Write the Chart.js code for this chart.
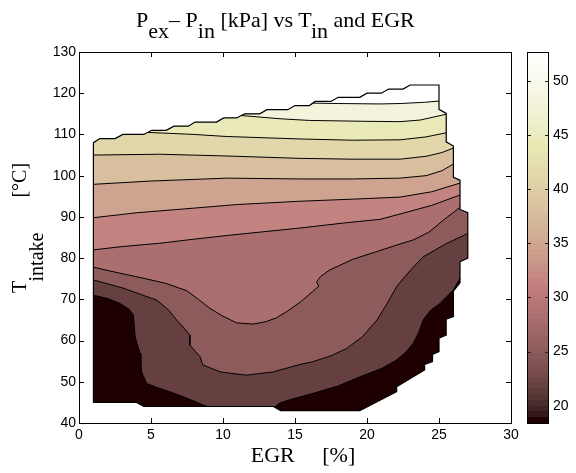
<!DOCTYPE html>
<html>
<head>
<meta charset="utf-8">
<script src="https://cdn.jsdelivr.net/npm/chart.js@4.4.1/dist/chart.umd.min.js"></script>
<style>
  body { margin: 0; background: #fff; }
  #wrap { position: relative; width: 576px; height: 473px; overflow: hidden; }
  canvas { position: absolute; top: 0; }
  .serif { position: absolute; font-family: "Liberation Serif", "Times New Roman", serif; font-size: 20px; line-height: 20px; white-space: pre; color: #000; }
  .big { font-size: 22px; line-height: 22px; }
  .sub { position: relative; top: 11px; }
</style>
</head>
<body>
<div id="wrap">
  <canvas id="plot" width="576" height="473" style="left:0"></canvas>
  <canvas id="cbar" width="49" height="473" style="left:527px"></canvas>
  <div class="serif big" style="left:136px;top:9px">P<span class="sub">ex</span>– P<span class="sub">in</span> [kPa] vs T<span class="sub">in</span> and EGR</div>
  <div class="serif big" style="left:0;width:606px;text-align:center;top:444px">EGR     [%]</div>
  <div class="serif" style="left:9px;top:293px;transform-origin:0 0;transform:rotate(-90deg)">T<span style="position:relative;top:17px">intake</span>       [°C]</div>
</div>
<script>
// axis ticks
const egrTicks = [0, 5, 10, 15, 20, 25, 30];
const tempTicks = [40, 50, 60, 70, 80, 90, 100, 110, 120, 130];
const cbarTicks = [20, 25, 30, 35, 40, 45, 50];
const cbarMin = 18.4;
const cbarMax = 52.65;

// measured region (EGR %, T intake degC), clockwise from bottom left
const domainEdge = [[1,45],[1,108],[1.45,109],[2.5,109],[3.05,110],[4.5,110],[5.05,111],[6.05,111],[6.6,112],[7.6,112],
  [8.05,113],[9.55,113],[10.05,114],[10.95,114],[11.5,115],[12.55,115],[13.05,116],[14.5,116],[15,117],[16,117],
  [16.4,118],[17.5,118],[18,119],[19.5,119],[20,120],[21,120],[21.5,121],[22.5,121],[23,122],[25,122],
  [25,116.1],[25.5,115.1],[25.5,108.2],[26,107.2],[26,99.6],[26.46,98.9],[26.46,91.8],[27,91],[27,80],[26.46,79.1],
  [26.46,74],[26,72],[26,65.8],[25.5,65.2],[25.5,61.3],[25,60.6],[25,57.3],[24.55,56.6],[24.55,54.9],[24,54.2],
  [24,52.9],[22.06,48.8],[22.06,47.6],[19.5,43],[14,43],[13.5,44],[4.5,44],[4,45],[1,45]];

// contour lines, lowest level first
const contour01 = [[0.5,71.2],[1,71],[2,70.2],[2.85,69],[3.5,67.5],[3.77,66.2],[3.85,63],[3.9,60.9],[4.1,58.5],[4.24,56.9],
  [4.3,54.5],[4.35,52.4],[4.7,49.6],[5.5,48.5],[6.3,47.6],[7.5,46],[8.6,44.4],[9.3,43.6],[9.5,42],[13.3,42],
  [13.5,43.6],[13.96,44.9],[15,46],[16.27,47.2],[18,49],[19.5,51.2],[21,53.2],[22.06,55.3],[22.7,57.2],[23.2,59.3],
  [23.6,62],[23.9,65],[24.4,67.3],[25.07,69],[26,72.3],[26.46,75.1],[27.5,77.5]];
const contour02 = [[0.5,74.9],[1,74.7],[3,72.8],[5.4,69.8],[6.2,67.5],[6.78,65],[7.3,63],[7.7,61.3],[7.7,58.9],[8.1,57.3],
  [8.4,56.1],[8.6,54.1],[9.8,52.4],[11.6,51.6],[13.5,52.4],[14,52.9],[15.35,54.2],[16.27,54.9],[17.5,56.3],[18.6,58.1],
  [19.7,61],[20.7,65],[21.4,69],[22.06,73.1],[23,77],[23.9,80.3],[25.5,83.5],[26.9,85.8],[27.5,86.6]];
const contour03 = [[0.5,78],[1,77.8],[2.5,76.6],[4.24,75.3],[6,73.9],[7.48,72.1],[8.3,70],[9.1,67.8],[10,65.9],[10.95,64.3],
  [12.1,64],[13,64.6],[13.7,65.5],[14.5,67.2],[15.35,69.3],[16.2,71.8],[16.65,73.2],[16.5,74.3],[16.8,75.6],[17.4,77.1],
  [19,79.7],[20.7,81.6],[22,83.1],[23.2,84.4],[24.3,86.3],[25.3,89.2],[26.46,92.3],[27.5,94.5]];
const contour04 = [[0.5,81.9],[1,82],[3,82.8],[5.6,83.6],[8,84.6],[10.3,85.5],[13.96,86.8],[15.35,87.3],[18.6,88.6],[20.9,89.4],
  [22.4,90.8],[24.5,92.8],[26.46,95.3],[27.5,96.5]];
const contour05 = [[0.5,89.7],[1,89.8],[4,91],[7.9,92.1],[11,93],[15.35,93.8],[19,94.3],[22.3,94.8],[24.5,96.1],[26.46,98.2],
  [27.5,99.5]];
const contour06 = [[0.5,97.8],[1,97.9],[5,98.7],[10.3,99.4],[15.35,99.2],[19,99.2],[22.3,99.4],[24.1,100],[25.2,101.2],[26,102.8],
  [27.5,105]];
const contour07 = [[0.5,105],[1,105],[5.6,105.2],[10,104.8],[15.35,104.2],[19,104],[22.3,104],[24.1,104.7],[25.2,105.6],[26,106.7],
  [27.5,108.5]];
const contour08 = [[4.75,110.5],[8,110],[10.26,109.5],[12,109.3],[15.35,108.9],[19,108.6],[22.3,108.7],[24.1,109.4],[25.5,110.4],
  [27.5,112]];
const contour09 = [[11.25,114.6],[13.96,113.8],[16,113.4],[19.7,113.2],[22.3,113.1],[23.7,113.5],[25.5,114.9],[27.5,117]];
const contour10 = [[16.2,117.6],[18,117.5],[20.9,117.4],[22.3,117.5],[24,117.8],[25,118.1],[27.5,118.5]];

// band colours (pink map), lowest band first
const bandColors = ['#1e0000', '#664040', '#8d5b5b', '#ac6f6f', '#c38481', '#cea490',
  '#d8bf9d', '#e1d7aa', '#eaeab9', '#f4f4dd', '#ffffff'];

const contours = [contour01, contour02, contour03, contour04, contour05, contour06, contour07, contour08, contour09, contour10];
const toXY = pts => pts.map(p => ({ x: p[0], y: p[1] }));

// MATLAB pink colormap
function pinkColor(i, m) {
    const n = Math.floor(3 / 8 * m);
    const g = i / (m - 1);
    const hr = i < n ? (i + 1) / n : 1;
    const hg = i < n ? 0 : (i < 2 * n ? (i - n + 1) / n : 1);
    const hb = i < 2 * n ? 0 : (i - 2 * n + 1) / (m - 2 * n);
    const c = v => Math.round(255 * Math.sqrt((2 * g + v) / 3));
    return `rgb(${c(hr)}, ${c(hg)}, ${c(hb)})`;
}

const tickFont = { family: 'Liberation Sans, Arial, sans-serif', size: 14 };

// datasets: black base, one filled region per contour level, then the outline
const datasets = [{
    label: 'base',
    data: toXY(domainEdge),
    fill: 'shape',
    backgroundColor: bandColors[0],
    borderWidth: 0,
    pointRadius: 0,
    order: 100
}];
contours.forEach((c, k) => {
    datasets.push({
        label: 'level' + (k + 1),
        data: toXY(c),
        fill: 'end',
        backgroundColor: bandColors[k + 1],
        borderColor: '#000',
        borderWidth: 1,
        pointRadius: 0,
        tension: 0,
        order: 50 - k
    });
});
datasets.push({
    label: 'outline',
    data: toXY(domainEdge),
    fill: false,
    borderColor: '#000',
    borderWidth: 1.2,
    pointRadius: 0,
    order: 0
});

// clip the contour fills to the measured region
const domainClip = {
    id: 'domainClip',
    beforeDatasetsDraw(chart) {
        const { ctx, scales: { x, y } } = chart;
        ctx.save();
        ctx.beginPath();
        domainEdge.forEach((p, i) => {
            const px = x.getPixelForValue(p[0]);
            const py = y.getPixelForValue(p[1]);
            if (i === 0) ctx.moveTo(px, py); else ctx.lineTo(px, py);
        });
        ctx.closePath();
        ctx.clip();
    },
    beforeDatasetDraw(chart, args) {
        if (chart.data.datasets[args.index].label === 'outline') chart.ctx.restore();
    }
};

// matlab style box with inward ticks
const axisBox = {
    id: 'axisBox',
    afterDatasetsDraw(chart) {
        const { ctx, chartArea: a, scales: { x, y } } = chart;
        ctx.save();
        ctx.strokeStyle = '#000';
        ctx.lineWidth = 1;
        ctx.beginPath();
        egrTicks.forEach(v => {
            const px = Math.round(x.getPixelForValue(v)) + 0.5;
            ctx.moveTo(px, a.bottom); ctx.lineTo(px, a.bottom - 5);
            ctx.moveTo(px, a.top); ctx.lineTo(px, a.top + 5);
        });
        tempTicks.forEach(v => {
            const py = Math.round(y.getPixelForValue(v)) + 0.5;
            ctx.moveTo(a.left, py); ctx.lineTo(a.left + 5, py);
            ctx.moveTo(a.right, py); ctx.lineTo(a.right - 5, py);
        });
        ctx.stroke();
        ctx.strokeRect(a.left + 0.5, a.top + 0.5, a.right - a.left, a.bottom - a.top);
        ctx.restore();
    }
};

new Chart(document.getElementById('plot'), {
    type: 'line',
    data: { datasets },
    options: {
        responsive: false,
        animation: false,
        events: [],
        layout: { padding: { left: 0, top: 52, right: 65, bottom: 0 } },
        plugins: { legend: { display: false }, tooltip: { enabled: false } },
        scales: {
            x: {
                type: 'linear',
                min: 0,
                max: 30,
                afterBuildTicks: s => { s.ticks = egrTicks.map(v => ({ value: v })); },
                ticks: { color: '#000', font: tickFont, padding: 4, maxRotation: 0 },
                grid: { display: false, drawTicks: false },
                border: { display: false },
                afterFit: s => { s.height = 50; }
            },
            y: {
                type: 'linear',
                min: 40,
                max: 130,
                afterBuildTicks: s => { s.ticks = tempTicks.map(v => ({ value: v })); },
                ticks: { color: '#000', font: tickFont, padding: 3 },
                grid: { display: false, drawTicks: false },
                border: { display: false },
                afterFit: s => { s.width = 79; }
            }
        }
    },
    plugins: [domainClip, axisBox]
});

// colour bar
const cbarBox = {
    id: 'cbarBox',
    afterDatasetsDraw(chart) {
        const { ctx, chartArea: a, scales: { y } } = chart;
        ctx.save();
        ctx.strokeStyle = '#222';
        ctx.lineWidth = 1;
        ctx.beginPath();
        cbarTicks.forEach(v => {
            const py = Math.round(y.getPixelForValue(v)) + 0.5;
            ctx.moveTo(a.left, py); ctx.lineTo(a.left + 4, py);
            ctx.moveTo(a.right, py); ctx.lineTo(a.right - 4, py);
        });
        ctx.stroke();
        ctx.strokeStyle = '#000';
        ctx.strokeRect(a.left + 0.5, a.top + 0.5, a.right - a.left - 1, a.bottom - a.top);
        ctx.restore();
    }
};

new Chart(document.getElementById('cbar'), {
    type: 'bar',
    data: {
        labels: [''],
        datasets: [{
            data: [[cbarMin, cbarMax]],
            barPercentage: 1,
            categoryPercentage: 1,
            borderWidth: 0,
            backgroundColor: c => {
                const { ctx, chartArea, scales } = c.chart;
                if (!chartArea) return '#888';
                const y0 = scales.y.getPixelForValue(cbarMin);
                const y1 = scales.y.getPixelForValue(cbarMax);
                const grad = ctx.createLinearGradient(0, y0, 0, y1);
                const m = 64;
                for (let i = 0; i < m; i++) {
                    grad.addColorStop(i / m, pinkColor(i, m));
                    grad.addColorStop((i + 1) / m, pinkColor(i, m));
                }
                return grad;
            }
        }]
    },
    options: {
        responsive: false,
        animation: false,
        events: [],
        layout: { padding: { left: 0, top: 52, right: 0, bottom: 50 } },
        plugins: { legend: { display: false }, tooltip: { enabled: false } },
        scales: {
            x: { display: false },
            y: {
                position: 'right',
                min: cbarMin,
                max: cbarMax,
                afterBuildTicks: s => { s.ticks = cbarTicks.map(v => ({ value: v })); },
                ticks: { color: '#000', font: tickFont, padding: 4 },
                grid: { display: false, drawTicks: false },
                border: { display: false },
                afterFit: s => { s.width = 27; }
            }
        }
    },
    plugins: [cbarBox]
});
</script>
</body>
</html>
